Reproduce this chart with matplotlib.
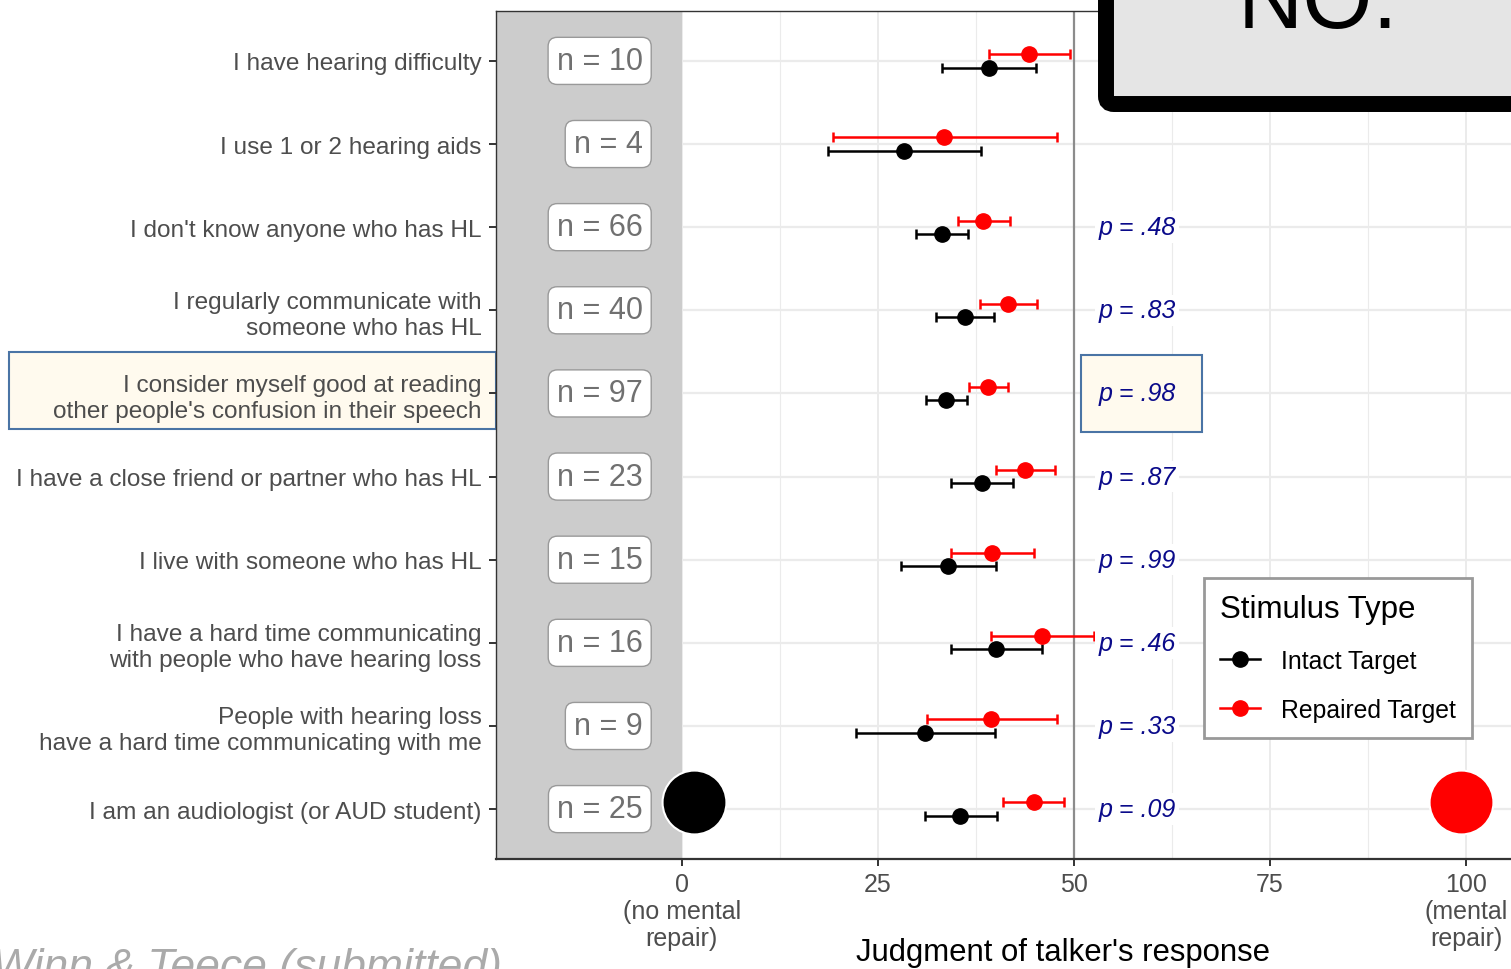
import numpy as np
import matplotlib
matplotlib.use("Agg")
import matplotlib.pyplot as plt
from matplotlib.patches import Rectangle, FancyBboxPatch
from matplotlib.lines import Line2D
from matplotlib.transforms import IdentityTransform

plt.rcParams['font.family'] = ['Liberation Sans', 'DejaVu Sans']

# survey statements, top to bottom
labels = [
    "I have hearing difficulty",
    "I use 1 or 2 hearing aids",
    "I don't know anyone who has HL",
    "I regularly communicate with\nsomeone who has HL",
    "I consider myself good at reading\nother people's confusion in their speech",
    "I have a close friend or partner who has HL",
    "I live with someone who has HL",
    "I have a hard time communicating\nwith people who have hearing loss",
    "People with hearing loss\nhave a hard time communicating with me",
    "I am an audiologist (or AUD student)",
]
n_counts = [10, 4, 66, 40, 97, 23, 15, 16, 9, 25]
p_values = [None, None, ".48", ".83", ".98", ".87", ".99", ".46", ".33", ".09"]

intact_mean = [39.2, 28.3, 33.2, 36.1, 33.7, 38.3, 33.9, 40.1, 31.0, 35.5]
intact_lo = [33.2, 18.6, 29.8, 32.4, 31.1, 34.3, 27.9, 34.3, 22.2, 31.0]
intact_hi = [45.2, 38.1, 36.5, 39.8, 36.4, 42.2, 40.1, 45.9, 39.9, 40.2]

repaired_mean = [44.3, 33.4, 38.4, 41.6, 39.0, 43.8, 39.5, 45.9, 39.4, 44.9]
repaired_lo = [39.2, 19.3, 35.2, 38.0, 36.6, 40.1, 34.3, 39.4, 31.3, 40.9]
repaired_hi = [49.5, 47.8, 41.8, 45.3, 41.6, 47.6, 44.9, 52.5, 47.8, 48.7]

x_ticks = [0, 25, 50, 75, 100]
x_ticklabels = ["0\n(no mental\nrepair)", "25", "50", "75", "100\n(mental\nrepair)"]

# scale anchors drawn as big dots at the ends of the scale
anchor_x = [1.5, 99.4]
anchor_colors = ["black", "red"]
highlight_row = 5

W, H = 1511, 970
fig = plt.figure(figsize=(W / 100, H / 100), dpi=100)
ax = fig.add_axes([496 / W, 1 - 860 / H, (1630 - 496) / W, 848 / H])

rows = np.arange(1, len(labels) + 1)
ax.set_xlim(-23.7, 120.9)
ax.set_ylim(10.6, 0.4)

# grid
ax.set_xticks(x_ticks)
ax.set_xticks([-12.5, 12.5, 37.5, 62.5, 87.5, 112.5], minor=True)
ax.set_yticks(rows)
ax.grid(axis='x', which='major', color='#ebebeb', lw=1.4, zorder=0)
ax.grid(axis='x', which='minor', color='#ebebeb', lw=0.8, zorder=0)
ax.grid(axis='y', which='major', color='#ebebeb', lw=1.6, zorder=0)
ax.set_axisbelow(True)

ax.add_patch(Rectangle((-23.7, 0.4), 23.7, 10.2, facecolor='#cccccc', edgecolor='none', zorder=1))
ax.axvline(50, color='#8c8c8c', lw=1.6, zorder=1.5)

# highlight box for p label
ax.add_patch(Rectangle((50.9, highlight_row - 0.46), 15.4, 0.92, facecolor='#fffaee',
                       edgecolor='#4a74a5', lw=1.5, zorder=1.6))

dodge = 0.08
im = np.array(intact_mean)
rm = np.array(repaired_mean)
ax.errorbar(im, rows + dodge, xerr=[im - np.array(intact_lo), np.array(intact_hi) - im],
            fmt='o', color='black', ms=11, lw=1.8, capsize=3.6, capthick=1.8, zorder=3)
ax.errorbar(rm, rows - dodge, xerr=[rm - np.array(repaired_lo), np.array(repaired_hi) - rm],
            fmt='o', color='red', ms=11, lw=1.8, capsize=3.6, capthick=1.8, zorder=3)

# n labels
for r, n in zip(rows, n_counts):
    ax.text(-5.0, r, f"n = {n}", ha='right', va='center', fontsize=22, color='#707070',
            zorder=4, bbox=dict(boxstyle='round,pad=0.28,rounding_size=0.3', facecolor='white',
                                edgecolor='#999999', lw=1.0))

# p labels
for r, p in zip(rows, p_values):
    if p is None:
        continue
    fc = '#fffaee' if r == highlight_row else 'white'
    ax.text(53.1, r, f"p = {p}", ha='left', va='center', fontsize=18, style='italic',
            color='#0a0a8a', zorder=4,
            bbox=dict(boxstyle='square,pad=0.15', facecolor=fc, edgecolor='none'))

for x, c in zip(anchor_x, anchor_colors):
    ax.plot([x], [9.91], 'o', color=c, ms=46, mec='white', mew=1.5, zorder=5, clip_on=False)

ax.set_yticklabels(labels, fontsize=17.6, color='#4d4d4d', linespacing=1.22)
ax.set_xticklabels(x_ticklabels, fontsize=18, color='#4d4d4d', linespacing=1.16)
ax.tick_params(axis='both', which='major', length=5, width=1.4, color='#333333')
ax.tick_params(axis='y', pad=5.5)
ax.tick_params(axis='x', pad=4.5)
ax.tick_params(which='minor', length=0)

for side in ['top', 'left', 'right']:
    ax.spines[side].set_color('#333333')
    ax.spines[side].set_linewidth(1.0)
ax.spines['bottom'].set_color('#333333')
ax.spines['bottom'].set_linewidth(1.6)

ax.set_xlabel("Judgment of talker's response", fontsize=22.4, color='black')
ax.xaxis.set_label_coords(0.5, -0.1097)
ax.xaxis.label.set_va('center')

# highlight box behind the y label
fig.patches.append(Rectangle((9, H - 430), 487, 77, transform=IdentityTransform(),
                             facecolor='#fffaee', edgecolor='#4a74a5', lw=1.5, zorder=-1))

# big "NO." panel
fig.patches.append(FancyBboxPatch((1106, H - 105), 600, 200, transform=IdentityTransform(),
                                  boxstyle='round,pad=0,rounding_size=8',
                                  facecolor='#e5e5e5', edgecolor='black', lw=11.5, zorder=2))
fig.text(1318 / W, 1 - 28 / H, "NO.", ha='center', va='baseline', fontsize=65, color='black', zorder=3)

leg_handles = [
    Line2D([0], [0], color='black', marker='o', ms=11, lw=1.8),
    Line2D([0], [0], color='red', marker='o', ms=11, lw=1.8),
]
leg = fig.legend(leg_handles, ["Intact Target", "Repaired Target"], title="Stimulus Type",
                 loc='upper left', bbox_to_anchor=(1204 / W, 1 - 579 / H), borderaxespad=0,
                 fontsize=17.8, title_fontsize=22.5, fancybox=False, framealpha=1,
                 edgecolor='#999999', handlelength=1.6, labelspacing=1.0, borderpad=0.65,
                 handletextpad=0.85, alignment='left')
leg.get_frame().set_linewidth(2.0)
leg.set_zorder(6)

fig.text(-8 / W, -10 / H, "Winn & Teece (submitted)", ha='left', va='baseline', fontsize=32,
         style='italic', color='#aaaaaa')

fig.savefig("out.png", dpi=100)
